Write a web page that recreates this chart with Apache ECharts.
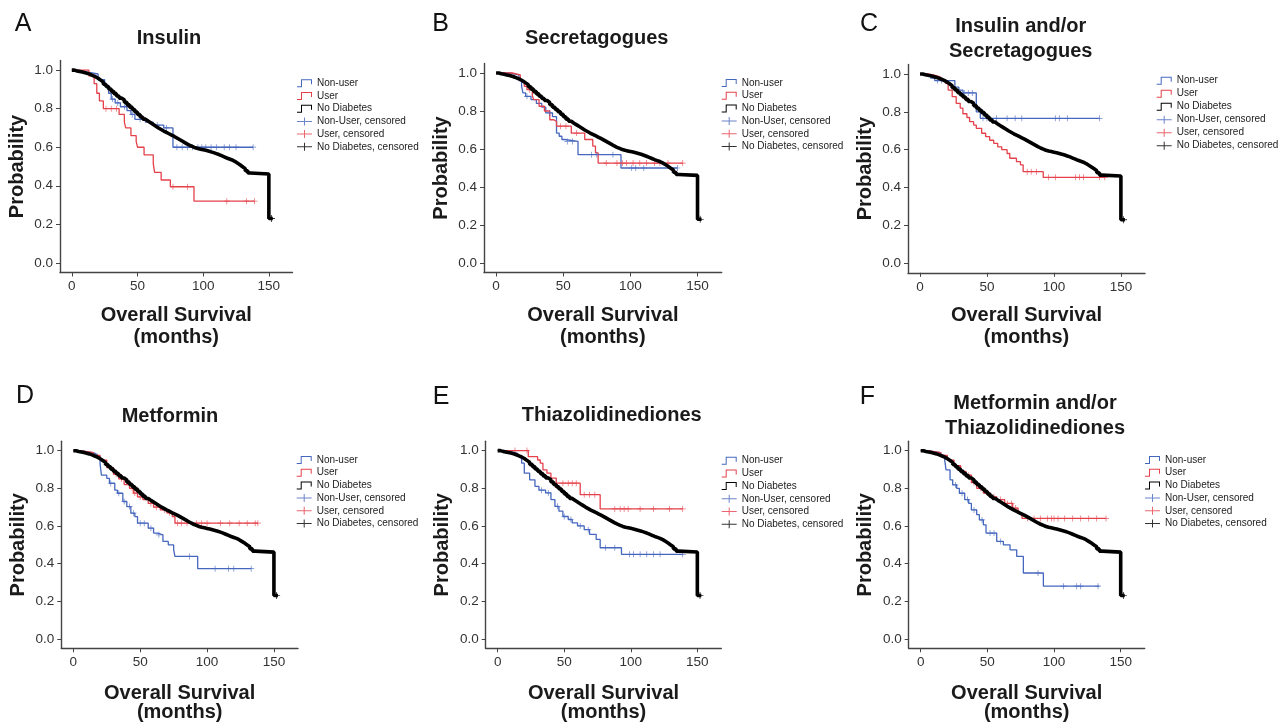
<!DOCTYPE html>
<html><head><meta charset="utf-8">
<script src="https://cdn.jsdelivr.net/npm/echarts@6/dist/echarts.min.js"></script>
<style>html,body{margin:0;padding:0;background:#fff}#c{width:1278px;height:723px}</style>
</head><body><div id="c"></div>
<script>
// ---------- text / ticks ----------
const panelLetters = ['A','B','C','D','E','F'];
const panelTitles = ['Insulin','Secretagogues','Insulin and/or\nSecretagogues','Metformin','Thiazolidinediones','Metformin and/or\nThiazolidinediones'];
const legendNames = ['Non-user','User','No Diabetes','Non-User, censored','User, censored','No Diabetes, censored'];
const xTicks = [0,50,100,150];
const yTicks = [0,0.2,0.4,0.6,0.8,1.0];
const xTitle = 'Overall Survival\n(months)';
const yTitle = 'Probability';

// ---------- data: [months, survival probability] ----------
const noDiabetes = [[0,1],[2,0.996],[4,0.993],[6,0.99],[8,0.987],[10,0.983],[12,0.978],[14,0.972],[16,0.966],[18,0.958],[20,0.948],[22,0.938],[24,0.927],[26,0.915],[28,0.902],[30,0.89],[32,0.878],[34,0.866],[36,0.855],[38,0.845],[40,0.833],[42,0.82],[44,0.808],[46,0.796],[48,0.783],[50,0.77],[52,0.757],[54,0.746],[56,0.736],[58,0.727],[60,0.718],[62,0.709],[64,0.7],[66,0.692],[68,0.684],[70,0.677],[72,0.67],[74,0.663],[76,0.656],[78,0.648],[80,0.64],[82,0.632],[84,0.624],[86,0.616],[88,0.609],[90,0.603],[92,0.597],[94,0.593],[96,0.59],[98,0.587],[100,0.584],[102,0.58],[104,0.576],[106,0.572],[108,0.567],[110,0.562],[112,0.556],[114,0.55],[116,0.544],[118,0.539],[120,0.534],[122,0.527],[124,0.518],[126,0.509],[128,0.499],[130,0.489],[132,0.478],[134,0.466],[136,0.461],[150,0.23],[153,0.23]];
const noDiabetesCensored = [[152,0.23]];

const insulinNonUser = [[0,1],[5,0.99],[12,0.98],[20,0.95],[25,0.92],[28,0.88],[30,0.85],[33,0.83],[37,0.81],[42,0.79],[45,0.77],[48,0.745],[56,0.73],[62,0.715],[70,0.70],[77,0.60],[138,0.60]];
const insulinNonUserCensored = [[31,0.85],[35,0.83],[40,0.81],[46,0.77],[52,0.745],[65,0.715],[72,0.70],[80,0.60],[84,0.60],[88,0.60],[92,0.60],[96,0.60],[99,0.60],[102,0.60],[106,0.60],[110,0.60],[116,0.60],[120,0.60],[125,0.60],[138,0.60]];
const insulinUser = [[0,1],[13,0.97],[17,0.93],[19,0.88],[21,0.84],[24,0.80],[36,0.77],[40,0.73],[41,0.70],[45,0.66],[49,0.63],[50,0.60],[55,0.56],[62,0.515],[63,0.47],[68,0.43],[75,0.395],[93,0.32],[139,0.32]];
const insulinUserCensored = [[26,0.80],[30,0.80],[34,0.80],[77,0.395],[88,0.395],[118,0.32],[133,0.32],[139,0.32]];

const secNonUser = [[0,1],[10,0.99],[17,0.96],[19,0.93],[20,0.895],[22,0.877],[26,0.86],[30,0.84],[34,0.82],[37,0.79],[42,0.77],[45,0.684],[47,0.667],[49,0.65],[51,0.64],[61,0.57],[93,0.50],[135,0.50]];
const secNonUserCensored = [[23,0.877],[40,0.79],[53,0.64],[57,0.64],[71,0.57],[75,0.57],[87,0.57],[101,0.50],[104,0.50],[110,0.50],[135,0.50]];
const secUser = [[0,1],[12,0.99],[18,0.96],[21,0.93],[23,0.912],[27,0.88],[28,0.86],[32,0.825],[36,0.80],[40,0.754],[43,0.745],[45,0.72],[56,0.684],[66,0.65],[72,0.615],[74,0.58],[76,0.526],[139,0.526]];
const secUserCensored = [[25,0.912],[48,0.72],[52,0.72],[60,0.684],[82,0.526],[90,0.526],[94,0.526],[97,0.526],[102,0.526],[107,0.526],[112,0.526],[118,0.526],[122,0.526],[128,0.526],[139,0.526]];

const insSecNonUser = [[0,1],[3,0.99],[8,0.978],[11,0.965],[26,0.93],[29,0.915],[32,0.90],[42,0.80],[45,0.766],[134,0.766]];
const insSecNonUserCensored = [[13,0.965],[16,0.965],[33,0.90],[36,0.90],[39,0.90],[47,0.766],[50,0.766],[52,0.766],[57,0.766],[65,0.766],[71,0.766],[76,0.766],[101,0.766],[104,0.766],[110,0.766],[134,0.766]];
const insSecUser = [[0,1],[5,0.995],[10,0.985],[15,0.968],[19,0.95],[21,0.915],[24,0.88],[27,0.845],[30,0.82],[32,0.79],[35,0.77],[37,0.748],[40,0.73],[42,0.713],[46,0.687],[49,0.669],[52,0.65],[55,0.634],[58,0.615],[61,0.60],[65,0.58],[67,0.555],[72,0.537],[75,0.52],[77,0.484],[92,0.454],[138,0.454]];
const insSecUserCensored = [[80,0.484],[83,0.484],[87,0.484],[96,0.454],[101,0.454],[116,0.454],[119,0.454],[122,0.454],[134,0.454],[138,0.454]];

const metNonUser = [[0,1],[5,0.995],[10,0.99],[15,0.98],[18,0.96],[20,0.93],[21,0.87],[25,0.853],[27,0.827],[31,0.79],[33,0.774],[37,0.73],[40,0.703],[43,0.668],[46,0.65],[48,0.615],[56,0.588],[60,0.562],[63,0.553],[67,0.518],[71,0.50],[75,0.473],[76,0.438],[93,0.373],[133,0.373]];
const metNonUserCensored = [[28,0.827],[34,0.774],[38,0.73],[42,0.703],[45,0.668],[50,0.615],[53,0.615],[58,0.588],[64,0.553],[87,0.438],[106,0.373],[116,0.373],[120,0.373],[133,0.373]];
const metUser = [[0,1],[5,0.995],[10,0.99],[15,0.975],[20,0.95],[25,0.91],[30,0.875],[34,0.85],[38,0.82],[42,0.80],[45,0.775],[48,0.755],[52,0.74],[56,0.72],[60,0.70],[65,0.685],[70,0.67],[74,0.65],[76,0.615],[138,0.615]];
const metUserCensored = [[32,0.875],[36,0.85],[44,0.80],[46,0.775],[50,0.755],[58,0.72],[62,0.70],[68,0.685],[72,0.67],[78,0.615],[81,0.615],[85,0.615],[92,0.615],[96,0.615],[100,0.615],[110,0.615],[117,0.615],[124,0.615],[130,0.615],[136,0.615],[138,0.615]];

const tzdNonUser = [[0,1],[5,0.995],[10,0.985],[15,0.97],[18,0.933],[20,0.88],[24,0.845],[28,0.81],[31,0.79],[36,0.775],[40,0.74],[43,0.704],[46,0.678],[49,0.65],[53,0.634],[56,0.616],[60,0.60],[65,0.58],[69,0.555],[74,0.528],[77,0.484],[93,0.449],[139,0.449]];
const tzdNonUserCensored = [[33,0.79],[38,0.775],[45,0.704],[50,0.65],[55,0.634],[62,0.60],[68,0.58],[81,0.484],[88,0.484],[99,0.449],[102,0.449],[107,0.449],[112,0.449],[117,0.449],[122,0.449],[139,0.449]];
const tzdUser = [[0,1],[23,0.968],[30,0.95],[32,0.933],[34,0.898],[37,0.88],[40,0.854],[44,0.827],[62,0.766],[77,0.69],[139,0.69]];
const tzdUserCensored = [[13,1.0],[22,1.0],[49,0.827],[53,0.827],[56,0.827],[59,0.827],[65,0.766],[69,0.766],[73,0.766],[88,0.69],[92,0.69],[95,0.69],[98,0.69],[107,0.69],[117,0.69],[129,0.69],[139,0.69]];

const metTzdNonUser = [[0,1],[5,0.995],[10,0.99],[15,0.975],[18,0.95],[19,0.898],[22,0.845],[24,0.818],[27,0.80],[29,0.774],[33,0.74],[36,0.72],[38,0.685],[42,0.66],[44,0.632],[47,0.606],[49,0.562],[57,0.518],[62,0.50],[67,0.473],[72,0.438],[77,0.35],[92,0.28],[134,0.28]];
const metTzdNonUserCensored = [[26,0.818],[31,0.774],[35,0.74],[40,0.685],[46,0.632],[52,0.562],[55,0.562],[60,0.518],[88,0.35],[107,0.28],[117,0.28],[120,0.28],[133,0.28]];
const metTzdUser = [[0,1],[5,0.995],[10,0.99],[15,0.975],[20,0.95],[25,0.92],[30,0.89],[34,0.87],[38,0.83],[42,0.80],[47,0.775],[52,0.755],[57,0.74],[63,0.72],[69,0.695],[73,0.668],[76,0.64],[139,0.64]];
const metTzdUserCensored = [[36,0.87],[40,0.83],[45,0.80],[50,0.775],[55,0.755],[60,0.74],[65,0.72],[68,0.72],[71,0.695],[80,0.64],[85,0.64],[90,0.64],[95,0.64],[98,0.64],[100,0.64],[103,0.64],[108,0.64],[114,0.64],[120,0.64],[126,0.64],[132,0.64],[139,0.64]];

const panelData = [
  [insulinNonUser, insulinUser, insulinNonUserCensored, insulinUserCensored],
  [secNonUser, secUser, secNonUserCensored, secUserCensored],
  [insSecNonUser, insSecUser, insSecNonUserCensored, insSecUserCensored],
  [metNonUser, metUser, metNonUserCensored, metUserCensored],
  [tzdNonUser, tzdUser, tzdNonUserCensored, tzdUserCensored],
  [metTzdNonUser, metTzdUser, metTzdNonUserCensored, metTzdUserCensored]
];

// ---------- layout (pixels) ----------
const layout = [
  {grid:{left:60,top:60.5,width:232.5,height:212}, lg:[297,78.3], letter:[23,24], title:[169,38]},
  {grid:{left:484,top:63.5,width:237.7,height:209}, lg:[721.7,78], letter:[440.5,24], title:[596.7,38]},
  {grid:{left:908,top:64.5,width:237,height:208.3}, lg:[1156.7,75.7], letter:[869,24], title:[1020.7,38.9]},
  {grid:{left:61.3,top:441.3,width:236.7,height:207.4}, lg:[296.7,455], letter:[25,396.5], title:[170,416.7]},
  {grid:{left:485.7,top:441.2,width:235.6,height:208.3}, lg:[721.7,455.7], letter:[441,397], title:[611.7,415.8]},
  {grid:{left:908.7,top:441.3,width:236,height:207.4}, lg:[1145,455], letter:[867.5,397.5], title:[1035,415.8]}
];

const FONT = 'Liberation Sans, Arial, Helvetica, sans-serif';
const BLUE = '#4667be', RED = '#e5414b', BLACK = '#000';
const stepIcon = 'path://M0,7 L4,7 L4,0 L15,0 L15,5 L14,5 L14,1 L5,1 L5,8 L0,8 Z';
const crossIcon = 'path://M0,3.5 L7,3.5 L7,0 L8,0 L8,3.5 L15,3.5 L15,4.5 L8,4.5 L8,8 L7,8 L7,4.5 L0,4.5 Z';
const censorSymbol = 'path://M0,4.4 L10,4.4 L10,5.6 L0,5.6 Z M4.4,0 L5.6,0 L5.6,10 L4.4,10 Z';

const option = {animation:false, backgroundColor:'#fff', grid:[], xAxis:[], yAxis:[], series:[], legend:[], graphic:[]};

panelData.forEach((d, i) => {
  const L = layout[i];
  const bottomRow = i >= 3;
  option.grid.push(Object.assign({containLabel:false}, L.grid));
  option.xAxis.push({
    type:'value', gridIndex:i, min:-9, max:168,
    axisLine:{onZero:false, lineStyle:{color:'#444', width:1.4}},
    axisTick:{customValues:xTicks, length:4, lineStyle:{color:'#444', width:1}},
    axisLabel:{customValues:xTicks, fontSize:13.5, color:'#333', margin:7, fontFamily:FONT},
    splitLine:{show:false},
    name:xTitle, nameLocation:'middle', nameGap: bottomRow ? 36 : 32,
    nameTextStyle:{fontSize:20, fontWeight:'bold', color:'#1a1a1a', lineHeight: bottomRow ? 18.5 : 22, fontFamily:FONT}
  });
  option.yAxis.push({
    type:'value', gridIndex:i, min:-0.05, max:1.05,
    axisLine:{onZero:false, lineStyle:{color:'#444', width:1.4}},
    axisTick:{customValues:yTicks, length:4, lineStyle:{color:'#444', width:1}},
    axisLabel:{customValues:yTicks, fontSize:13.5, color:'#333', margin:7, fontFamily:FONT, formatter:v => v.toFixed(1)},
    splitLine:{show:false},
    name:yTitle, nameLocation:'middle', nameGap:33,
    nameTextStyle:{fontSize:20, fontWeight:'bold', color:'#1a1a1a', lineHeight:20, fontFamily:FONT}
  });
  const line = (name, data, color, w, z) => ({type:'line', name, xAxisIndex:i, yAxisIndex:i, data, step:'end', showSymbol:false, symbol:'none', lineStyle:{color, width:w}, itemStyle:{color}, z, silent:true});
  const cens = (name, data, color, size, z) => ({type:'scatter', name, xAxisIndex:i, yAxisIndex:i, data, symbol:censorSymbol, symbolSize:size, itemStyle:{color}, z, silent:true});
  option.series.push(
    line(legendNames[0], d[0], BLUE, 1.3, 2),
    line(legendNames[1], d[1], RED, 1.3, 2),
    line(legendNames[2], noDiabetes, BLACK, 3.6, 4),
    cens(legendNames[3], d[2], BLUE, 6, 3),
    cens(legendNames[4], d[3], RED, 6, 3),
    cens(legendNames[5], noDiabetesCensored, BLACK, 7, 5)
  );
  option.legend.push({
    left:L.lg[0], top:L.lg[1], orient:'vertical', padding:0,
    itemWidth:15, itemHeight:8, itemGap: i === 2 ? 3 : 2.7, selectedMode:false,
    textStyle:{fontSize:10, color:'#222', fontFamily:FONT},
    itemStyle:{borderWidth:0},
    data: legendNames.map((n, k) => ({name:n, icon: k < 3 ? stepIcon : crossIcon}))
  });
  option.graphic.push({
    type:'text', x:L.letter[0], y:L.letter[1], silent:true,
    style:{text:panelLetters[i], fontSize:25, fontFamily:FONT, fill:'#111', align:'center', verticalAlign:'middle', textAlign:'center', textVerticalAlign:'middle'}
  });
  option.graphic.push({
    type:'text', x:L.title[0], y:L.title[1], silent:true,
    style:{text:panelTitles[i], fontSize:20, fontWeight:'bold', fontFamily:FONT, fill:'#1a1a1a', lineHeight:25.5, align:'center', verticalAlign:'middle', textAlign:'center', textVerticalAlign:'middle'}
  });
});

const chart = echarts.init(document.getElementById('c'), null, {renderer:'canvas'});
chart.setOption(option);
</script>
</body></html>
